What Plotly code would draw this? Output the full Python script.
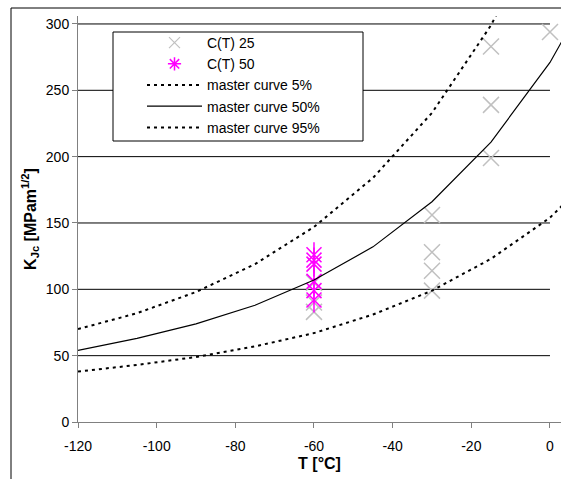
import plotly.graph_objects as go

# ---- data ----
T_ct25 = [0, -15, -15, -15, -30, -30, -30, -30, -60, -60, -60]
K_ct25 = [294, 283, 239, 199, 156, 128, 114, 99, 105, 90, 83]

T_ct50 = [-60, -60, -60, -60, -60, -60]
K_ct50 = [126, 122, 119, 106, 99, 92]

T_mc = [-120, -105, -90, -75, -60, -45, -30, -15, 0, 15]
K_mc5 = [38, 43, 49, 57, 67, 81, 99, 123, 154, 198]
K_mc50 = [54, 63, 74, 88, 107, 132, 166, 211, 271, 350]
T_mc95 = [-120, -105, -90, -75, -60, -45, -30, -15, 0]
K_mc95 = [70, 82, 98, 119, 147, 184, 233, 299, 386]

x_ticks = [-120, -100, -80, -60, -40, -20, 0]
x_ticktext = ["-120", "-100", "-80", "-60", "-40", "-20", "0"]
y_ticks = [0, 50, 100, 150, 200, 250, 300]

FONT = "Liberation Sans"
GRAY = "#c0c0c0"
MAG = "#ff00ff"

fig = go.Figure()
# data markers (legend entries drawn by small legend-only twins)
fig.add_trace(go.Scatter(x=T_ct25, y=K_ct25, mode="markers", name="C(T) 25",
                         marker=dict(symbol="x-thin", size=16, color=GRAY,
                                     line=dict(color=GRAY, width=1.5)),
                         cliponaxis=False, showlegend=False, legendgroup="a"))
# Excel-style star: an X plus a vertical stroke
fig.add_trace(go.Scatter(x=T_ct50, y=K_ct50, mode="markers", name="C(T) 50",
                         marker=dict(symbol="x-thin", size=15, color=MAG,
                                     line=dict(color=MAG, width=1.5)),
                         cliponaxis=False, showlegend=False, legendgroup="b"))
fig.add_trace(go.Scatter(x=T_ct50, y=K_ct50, mode="markers", name="C(T) 50",
                         marker=dict(symbol="line-ns", size=18, color=MAG,
                                     line=dict(color=MAG, width=1.5)),
                         cliponaxis=False, showlegend=False, legendgroup="b"))
fig.add_trace(go.Scatter(x=[None], y=[None], mode="markers", name="C(T) 25",
                         marker=dict(symbol="x-thin", size=11, color=GRAY,
                                     line=dict(color=GRAY, width=1.2)),
                         legendgroup="a", legendrank=1))
fig.add_trace(go.Scatter(x=[None], y=[None], mode="markers", name="C(T) 50",
                         marker=dict(symbol="asterisk", size=11, color=MAG,
                                     line=dict(color=MAG, width=1.5)),
                         legendgroup="b", legendrank=2))
fig.add_trace(go.Scatter(x=T_mc, y=K_mc5, mode="lines", name="master curve 5%",
                         line=dict(color="black", width=2, dash="3px,4px"), legendrank=3))
fig.add_trace(go.Scatter(x=T_mc, y=K_mc50, mode="lines", name="master curve 50%",
                         line=dict(color="black", width=1.2), legendrank=4))
fig.add_trace(go.Scatter(x=T_mc95, y=K_mc95, mode="lines", name="master curve 95%",
                         line=dict(color="black", width=2, dash="3px,4px"), legendrank=5))

# horizontal gridlines limited to the axis span
for yv in y_ticks[1:]:
    fig.add_shape(type="line", xref="x", yref="y", x0=x_ticks[0], x1=x_ticks[-1],
                  y0=yv, y1=yv, line=dict(color="black", width=1), layer="below")

L, T, W, H = 78, 16, 561, 479
B = 57
pw, ph = W - L, H - T - B

def px(xp):
    return (xp - L) / pw

def py(yp):
    return (H - B - yp) / ph

# outer chart border (cut off at right and bottom)
fig.add_shape(type="rect", xref="paper", yref="paper",
              x0=px(11), x1=px(600), y0=py(8), y1=py(520),
              line=dict(color="black", width=1), fillcolor="rgba(0,0,0,0)")
# legend box
fig.add_shape(type="rect", xref="paper", yref="paper",
              x0=px(113), x1=px(363), y0=py(32), y1=py(141),
              line=dict(color="black", width=1), fillcolor="white", layer="above")

fig.update_layout(
    width=W, height=H,
    margin=dict(l=L, r=0, t=T, b=B),
    paper_bgcolor="white", plot_bgcolor="white",
    font=dict(family=FONT, size=14, color="black"),
    showlegend=True,
    legend=dict(x=px(142), y=py(27), xanchor="left", yanchor="top",
                bgcolor="rgba(0,0,0,0)", borderwidth=0,
                font=dict(family=FONT, size=14, color="black"),
                itemwidth=55, tracegroupgap=0, traceorder="normal"),
    xaxis=dict(range=[-120, 2.8], tickvals=x_ticks, ticktext=x_ticktext,
               showgrid=False, zeroline=False,
               showline=True, linecolor="#808080", linewidth=1,
               ticks="outside", ticklen=5, tickcolor="#808080",
               tickfont=dict(family=FONT, size=14), ticklabelstandoff=6,
               title=dict(text="<b>T [°C]</b>", font=dict(family=FONT, size=16), standoff=5)),
    yaxis=dict(range=[0, 306], tickvals=y_ticks, showgrid=False, zeroline=False,
               showline=True, linecolor="#808080", linewidth=1,
               ticks="outside", ticklen=5, tickcolor="#808080",
               tickfont=dict(family=FONT, size=14),
               title=dict(text="<b>K<sub>Jc</sub> [MPam<sup>1/2</sup>]</b>",
                          font=dict(family=FONT, size=16), standoff=5)),
)

fig.write_html("out.html")
